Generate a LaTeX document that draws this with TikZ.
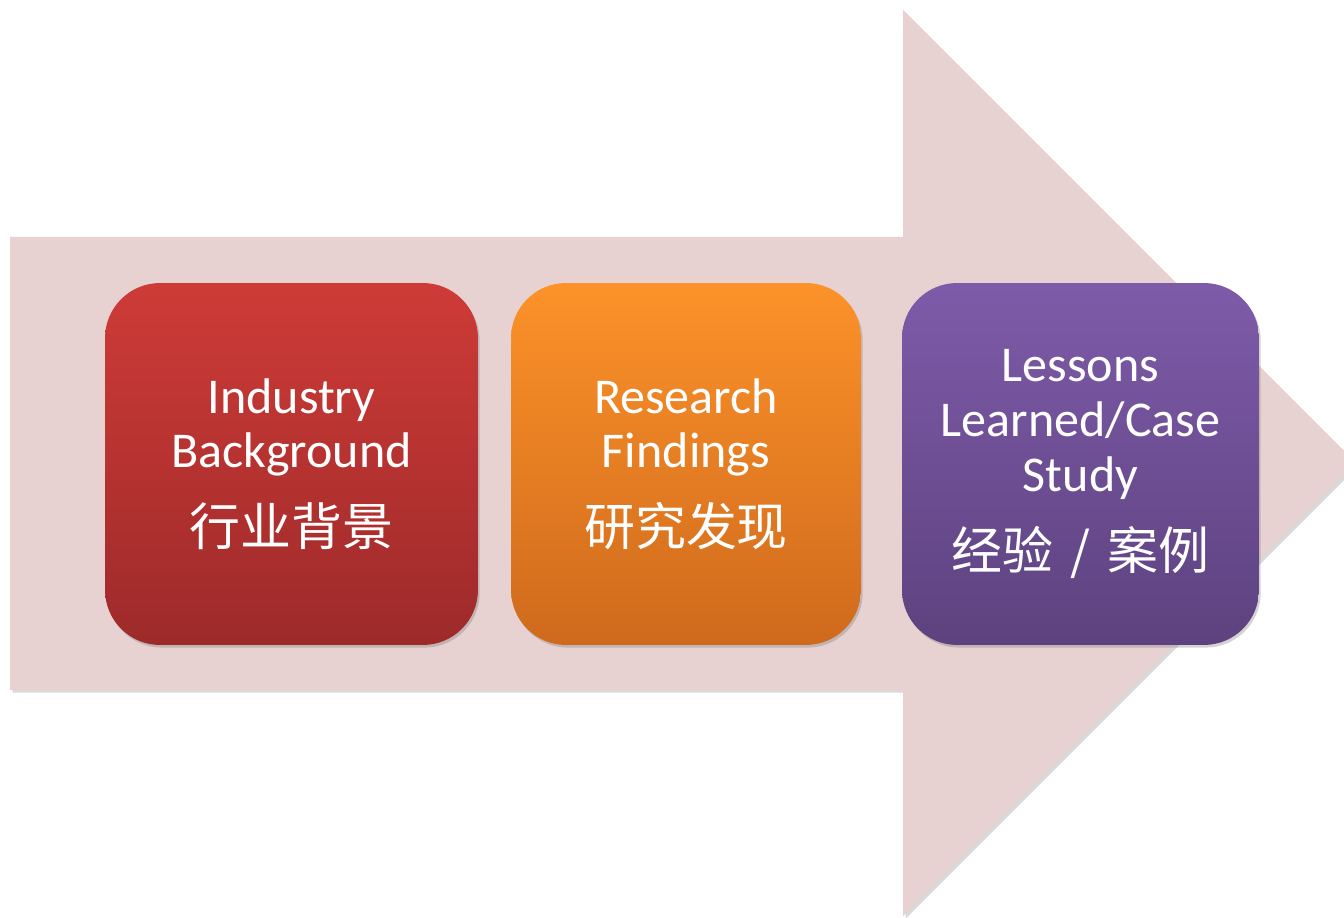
\documentclass[tikz,border=0pt]{standalone}
\usepackage{fontspec}
\setmainfont{Carlito}
\newfontfamily\cjk{Noto Sans CJK SC}
\usetikzlibrary{positioning,shadows}

\definecolor{ArrowPink}{HTML}{E8D1D1}
\definecolor{RedTop}{HTML}{CE3B37}
\definecolor{RedBot}{HTML}{9D2A2A}
\definecolor{OrangeTop}{HTML}{FC9229}
\definecolor{OrangeBot}{HTML}{CF6A1D}
\definecolor{PurpleTop}{HTML}{7E5BA9}
\definecolor{PurpleBot}{HTML}{5D427F}

\newcommand{\cjkline}[1]{{\cjk\fontsize{29}{34}\selectfont #1}}

\begin{document}
\begin{tikzpicture}[x=0.02cm, y=-0.02cm,
StageStyle/.style={rounded corners=1.1cm, minimum height=7.24cm,
                   text width=7cm, align=center, text=white, inner sep=0pt,
                   font=\fontsize{28.5}{31.2}\selectfont,
                   drop shadow={opacity=0.35, shadow xshift=1pt, shadow yshift=-1.5pt}},]
\useasboundingbox (0,0) rectangle (1344,918);
\clip (0,0) rectangle (1344,918);

% big arrow behind the stages
\fill[ArrowPink, drop shadow={opacity=0.3, shadow xshift=1.5pt, shadow yshift=-1.5pt}]
  (10,237) -- (903,237) -- (903,10) -- (1356,463) -- (903,916)
  -- (903,690) -- (10,690) -- cycle;

\node [StageStyle, minimum width=7.46cm, top color=RedTop, bottom color=RedBot]
  at (291.5, 464) (s1) {Industry\\Background\\[13pt]\cjkline{行业背景}};
\node [StageStyle, minimum width=7.0cm, top color=OrangeTop, bottom color=OrangeBot]
  at (686, 464) (s2) {Research\\Findings\\[13pt]\cjkline{研究发现}};
\node [StageStyle, minimum width=7.14cm, top color=PurpleTop, bottom color=PurpleBot]
  at (1080.5, 464) (s3) {Lessons\\Learned/Case\\Study\\[13pt]\cjkline{经验 / 案例}};
\end{tikzpicture}
\end{document}
